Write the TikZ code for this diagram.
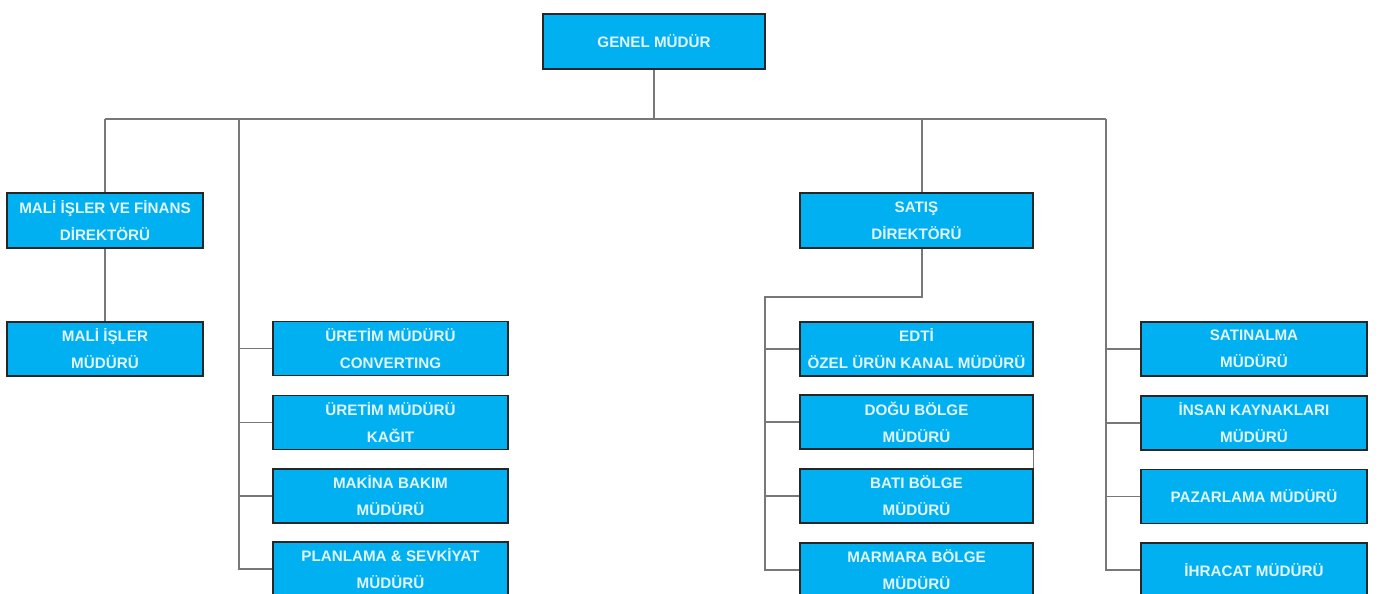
\documentclass[tikz,border=0pt]{standalone}
\usepackage{fontspec}
\setmainfont{Liberation Sans}
\definecolor{boxblue}{RGB}{0,176,240}
\definecolor{boxtext}{RGB}{225,245,255}
\definecolor{linegray}{RGB}{120,120,120}
\begin{document}
\begin{tikzpicture}[x=1pt,y=-1pt,
  box/.style={draw=black!85, line width=1.3pt, fill=boxblue, text=boxtext,
    align=center, inner sep=0pt, minimum height=54pt,
    font=\fontsize{15.2}{27}\selectfont\bfseries},
  conn/.style={draw=linegray, line width=1.4pt}]
\useasboundingbox (0,0) rectangle (1379,594);
\clip (0,0) rectangle (1379,594);
\fill[white] (0,0) rectangle (1379,594);
% nodes
\node[box, minimum width=222pt, minimum height=55pt] (gm) at (654,41.5) {GENEL MÜDÜR};
\node[box, minimum width=196pt, minimum height=55pt] (mf) at (105,220.5) {MALİ İŞLER VE FİNANS\\DİREKTÖRÜ};
\node[box, minimum width=196pt] (mim) at (105,349) {MALİ İŞLER\\MÜDÜRÜ};
\node[box, minimum width=235pt] (u1) at (390.5,348.5) {ÜRETİM MÜDÜRÜ\\CONVERTING};
\node[box, minimum width=235pt] (u2) at (390.5,422.5) {ÜRETİM MÜDÜRÜ\\KAĞIT};
\node[box, minimum width=235pt] (u3) at (390.5,496) {MAKİNA BAKIM\\MÜDÜRÜ};
\node[box, minimum width=235pt] (u4) at (390.5,569) {PLANLAMA \& SEVKİYAT\\MÜDÜRÜ};
\node[box, minimum width=233pt, minimum height=55pt] (sd) at (916.5,220.5) {SATIŞ\\DİREKTÖRÜ};
\node[box, minimum width=233pt] (e1) at (916.5,349) {EDTİ\\ÖZEL ÜRÜN KANAL MÜDÜRÜ};
\node[box, minimum width=233pt] (e2) at (916.5,422) {DOĞU BÖLGE\\MÜDÜRÜ};
\node[box, minimum width=233pt] (e3) at (916.5,496) {BATI BÖLGE\\MÜDÜRÜ};
\node[box, minimum width=233pt] (e4) at (916.5,570) {MARMARA BÖLGE\\MÜDÜRÜ};
\node[box, minimum width=226pt] (r1) at (1254,349) {SATINALMA\\MÜDÜRÜ};
\node[box, minimum width=226pt] (r2) at (1254,423) {İNSAN KAYNAKLARI\\MÜDÜRÜ};
\node[box, minimum width=226pt] (r3) at (1254,496.5) {PAZARLAMA MÜDÜRÜ};
\node[box, minimum width=226pt] (r4) at (1254,570) {İHRACAT MÜDÜRÜ};
% junction coordinates
\coordinate (top) at (654,119);
\coordinate (lj) at (105,119);
\coordinate (lv) at (239,119);
\coordinate (sj) at (922,119);
\coordinate (sv) at (765,297);
\coordinate (rv) at (1106,119);
% connectors
\draw[conn] (gm.south) -- (top);
\draw[conn] (lj) -- (rv);
\draw[conn] (lj) -- (mf.north);
\draw[conn] (mf.south) -- (mim.north);
\draw[conn] (lv) |- (u4.west);
\foreach \n in {u1,u2,u3} \draw[conn] (\n.west) -- (\n.west -| lv);
\draw[conn] (sj) -- (sj |- sd.north);
\draw[conn] (sj |- sd.south) |- (sv) |- (e4.west);
\foreach \n in {e1,e2,e3} \draw[conn] (\n.west) -- (\n.west -| sv);
\draw[conn] (e2.south east) -- (e3.north east);
\draw[conn] (rv) |- (r4.west);
\foreach \n in {r1,r2,r3} \draw[conn] (\n.west) -- (\n.west -| rv);
\end{tikzpicture}
\end{document}
